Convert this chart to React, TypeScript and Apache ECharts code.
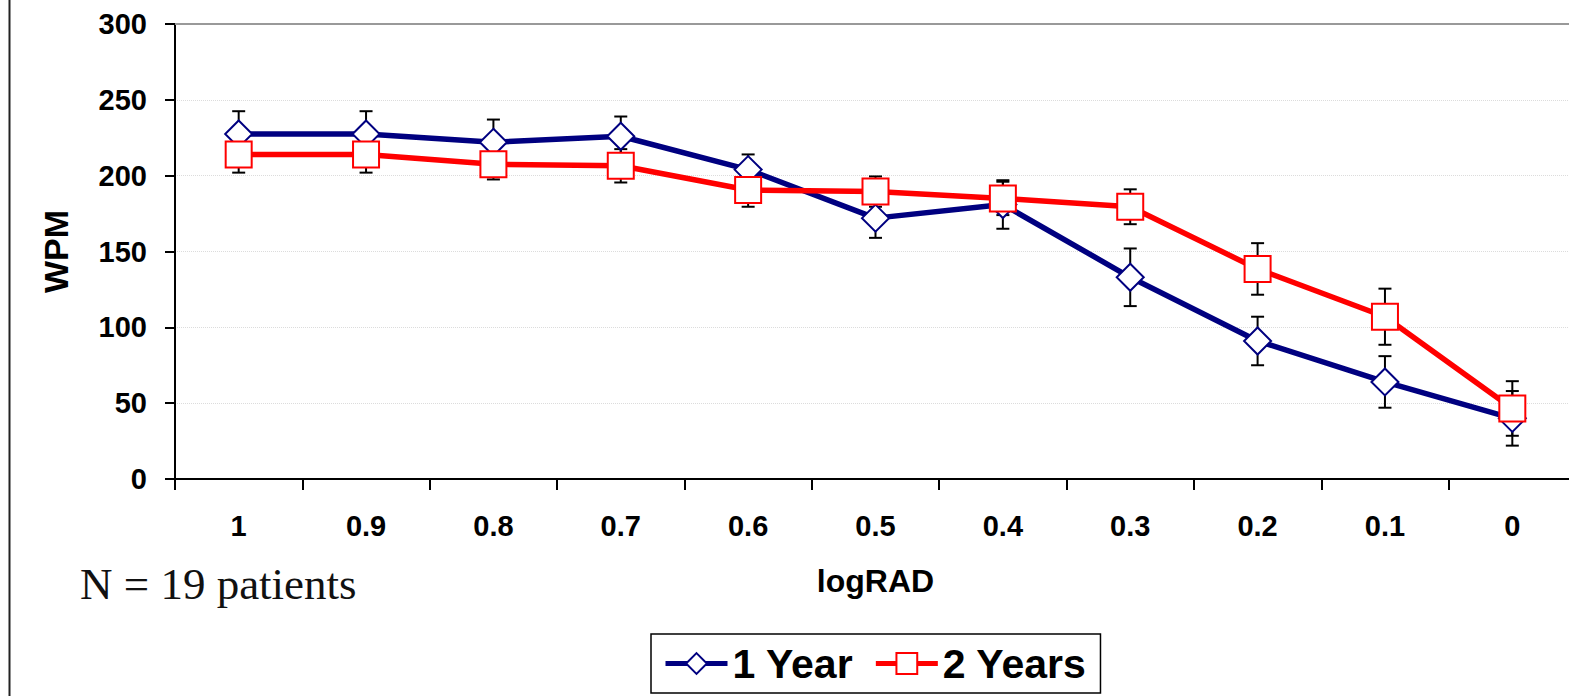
import React, { useEffect, useRef } from "react";
import * as echarts from "echarts";

const categories = ["1", "0.9", "0.8", "0.7", "0.6", "0.5", "0.4", "0.3", "0.2", "0.1", "0"];
const oneYear = [227.5, 227.5, 222, 226, 204, 172, 181, 133, 91, 64, 40];
const oneYearErr = [15, 15, 15, 13, 10, 13, 16, 19, 16, 17, 18];
const twoYears = [214, 214, 207.5, 206.5, 190.5, 189.5, 185, 179.5, 138.5, 107, 46.5];
const twoYearsErr = [12, 12, 10, 11, 11, 10, 11, 11.5, 17, 18.5, 18];
const yTicks = [0, 50, 100, 150, 200, 250, 300];

const FONT = "'Liberation Sans', Arial, sans-serif";

function errData(vals: number[], errs: number[]) {
  return vals.map((v, i) => [i, v - errs[i], v + errs[i]]);
}

const errRender = (params: any, api: any) => {
  const x = api.value(0);
  const lo = api.value(1);
  const hi = api.value(2);
  const pHi = api.coord([x, hi]);
  const pLo = api.coord([x, lo]);
  const hw = 6.5;
  const style = { stroke: "#000", lineWidth: 2 };
  return {
    type: "group",
    children: [
      { type: "line", shape: { x1: pHi[0], y1: pHi[1], x2: pLo[0], y2: pLo[1] }, style },
      { type: "line", shape: { x1: pHi[0] - hw, y1: pHi[1], x2: pHi[0] + hw, y2: pHi[1] }, style },
      { type: "line", shape: { x1: pLo[0] - hw, y1: pLo[1], x2: pLo[0] + hw, y2: pLo[1] }, style },
    ],
  };
};

export default function App() {
  const ref = useRef<HTMLDivElement>(null);
  useEffect(() => {
    if (!ref.current) return;
    const chart = echarts.init(ref.current, null, { renderer: "svg" });
    chart.setOption({
      animation: false,
      backgroundColor: "#fff",
      grid: { left: 175, top: 24, width: 1401, height: 455, containLabel: false, outerBoundsMode: "none" },
      legend: {
        data: ["1 Year", "2 Years"],
        left: 651,
        top: 634,
        padding: [9, 14, 9, 12],
        itemGap: 20,
        itemWidth: 62,
        itemHeight: 26,
        borderColor: "#000",
        borderWidth: 1.5,
        lineStyle: { width: 5 },
        textStyle: { fontFamily: FONT, fontSize: 41, fontWeight: "bold", color: "#000" },
      },
      xAxis: {
        type: "category",
        data: categories,
        boundaryGap: true,
        name: "logRAD",
        nameLocation: "middle",
        nameGap: 86,
        nameTextStyle: { fontFamily: FONT, fontSize: 32, fontWeight: "bold", color: "#000" },
        axisLine: { lineStyle: { color: "#000", width: 2 } },
        axisTick: { show: true, length: 11, lineStyle: { color: "#000", width: 2 } },
        axisLabel: { margin: 32, fontFamily: FONT, fontSize: 29, fontWeight: "bold", color: "#000" },
        splitLine: { show: false },
      },
      yAxis: {
        type: "value",
        min: 0,
        max: 300,
        interval: 50,
        name: "WPM",
        nameLocation: "middle",
        nameRotate: 90,
        nameGap: 102,
        nameTextStyle: { fontFamily: FONT, fontSize: 34, fontWeight: "bold", color: "#000" },
        axisLine: { show: true, lineStyle: { color: "#000", width: 2 } },
        axisTick: { show: true, length: 10, lineStyle: { color: "#000", width: 2 } },
        axisLabel: {
          margin: 28,
          fontFamily: FONT,
          fontSize: 29,
          fontWeight: "bold",
          color: "#000",
          formatter: (v: number) => (yTicks.includes(v) ? String(v) : ""),
        },
        splitLine: { show: true, lineStyle: { color: "#dcdcdc", width: 1, type: "dotted" } },
      },
      graphic: [
        {
          type: "line",
          shape: { x1: 9.5, y1: 0, x2: 9.5, y2: 696 },
          style: { stroke: "#222", lineWidth: 2 },
        },
        {
          type: "text",
          left: 80,
          top: 561,
          style: {
            text: "N = 19 patients",
            fontFamily: "'Liberation Serif', 'DejaVu Serif', serif",
            fontSize: 45,
            fill: "#111",
          },
        },
      ],
      series: [
        {
          name: "1 Year err",
          type: "custom",
          renderItem: errRender,
          data: errData(oneYear, oneYearErr),
          encode: { x: 0, y: [1, 2] },
          z: 1,
          silent: true,
        },
        {
          name: "2 Years err",
          type: "custom",
          renderItem: errRender,
          data: errData(twoYears, twoYearsErr),
          encode: { x: 0, y: [1, 2] },
          z: 1,
          silent: true,
        },
        {
          name: "1 Year",
          type: "line",
          data: oneYear,
          z: 2,
          symbol: "diamond",
          symbolSize: 27,
          lineStyle: { color: "#000080", width: 5.5 },
          itemStyle: { color: "#fff", borderColor: "#000080", borderWidth: 2 },
          color: "#000080",
        },
        {
          name: "2 Years",
          type: "line",
          data: twoYears,
          z: 3,
          symbol: "rect",
          symbolSize: 26,
          lineStyle: { color: "#ff0000", width: 5.5 },
          itemStyle: { color: "#fff", borderColor: "#ff0000", borderWidth: 2 },
          color: "#ff0000",
          markLine: {
            silent: true,
            symbol: "none",
            label: { show: false },
            lineStyle: { color: "#999", width: 2, type: "solid" },
            data: [{ yAxis: 300 }],
          },
        },
      ],
    });
    return () => chart.dispose();
  }, []);
  return (
    <div
      ref={ref}
      style={{ position: "absolute", left: 0, top: 0, width: 1569, height: 696 }}
    />
  );
}
